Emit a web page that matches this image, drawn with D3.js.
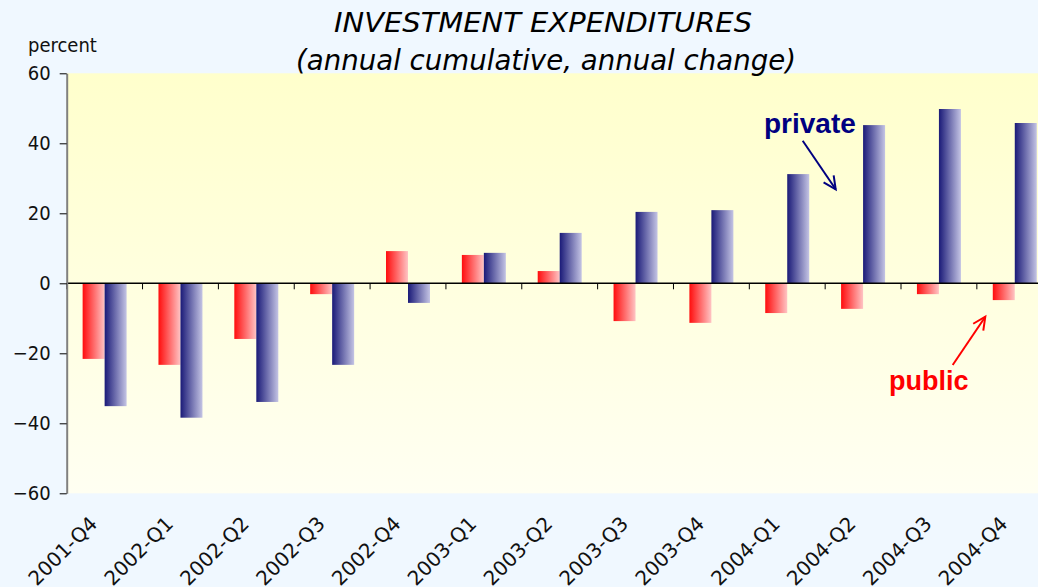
<!DOCTYPE html>
<html><head><meta charset="utf-8">
<script src="https://cdn.jsdelivr.net/npm/d3@7"></script>
<style>
html,body{margin:0;padding:0;background:#F0F8FF;overflow:hidden;}
svg{display:block;}
</style></head>
<body>
<script>
const categories = ["2001-Q4","2002-Q1","2002-Q2","2002-Q3","2002-Q4","2003-Q1","2003-Q2","2003-Q3","2003-Q4","2004-Q1","2004-Q2","2004-Q3","2004-Q4"];
const publicValues  = [-21.6,-23.3,-15.9,-3.1, 9.2, 8.1, 3.5,-10.8,-11.3,-8.5,-7.3,-3.1,-4.8];
const privateValues = [-35.1,-38.4,-33.9,-23.3,-5.6, 8.7,14.4, 20.4, 20.9,31.2,45.2,49.8,45.8];
const seriesNames = ["public","private"];
const yTicks = [-60,-40,-20,0,20,40,60];

const W = 1038, H = 587;
const mLeft = 66.7, mRight = 1052.7, mTop = 73.3, mBottom = 493.3;
const FONTC = "'DejaVu Sans Condensed','DejaVu Sans',sans-serif";
const FONT = "'DejaVu Sans',sans-serif";

const svg = d3.select("body").append("svg").attr("width", W).attr("height", H);
const defs = svg.append("defs");

const bg = defs.append("linearGradient").attr("id","bgGrad").attr("x1",0).attr("y1",0).attr("x2",0).attr("y2",1);
bg.append("stop").attr("offset","0%").attr("stop-color","#FFFFCC");
bg.append("stop").attr("offset","100%").attr("stop-color","#FFFFF2");

const rg = defs.append("linearGradient").attr("id","redGrad").attr("x1",0).attr("y1",0).attr("x2",1).attr("y2",0);
rg.append("stop").attr("offset","0%").attr("stop-color","#FF0D0D");
rg.append("stop").attr("offset","100%").attr("stop-color","#FFC4C4");
const bgr = defs.append("linearGradient").attr("id","blueGrad").attr("x1",0).attr("y1",0).attr("x2",1).attr("y2",0);
bgr.append("stop").attr("offset","0%").attr("stop-color","#1A1A78");
bgr.append("stop").attr("offset","100%").attr("stop-color","#C4C4E4");

const x0 = d3.scaleBand().domain(categories).range([mLeft, mRight]).paddingInner(0.42).paddingOuter(0.21);
const x1 = d3.scaleBand().domain(seriesNames).range([0, x0.bandwidth()]);
const y = d3.scaleLinear().domain([-60, 60]).range([mBottom, mTop]);

// plot area
svg.append("rect").attr("x", mLeft).attr("y", mTop).attr("width", mRight-mLeft).attr("height", mBottom-mTop).attr("fill","url(#bgGrad)");

// bars
const data = categories.map((c,i)=>({c, vals:[{s:"public",v:publicValues[i]},{s:"private",v:privateValues[i]}]}));
const g = svg.append("g").selectAll("g").data(data).join("g").attr("transform", d=>`translate(${x0(d.c)},0)`);
g.selectAll("rect").data(d=>d.vals).join("rect")
  .attr("x", d=>x1(d.s))
  .attr("width", x1.bandwidth())
  .attr("y", d=>y(Math.max(0,d.v)))
  .attr("height", d=>Math.abs(y(d.v)-y(0)))
  .attr("fill", d=>d.s==="public"?"url(#redGrad)":"url(#blueGrad)");

// zero line + category ticks
svg.append("line").attr("x1",mLeft).attr("x2",mRight).attr("y1",y(0)).attr("y2",y(0)).attr("stroke","#000").attr("stroke-width",1.5);
const step = x0.step();
svg.append("g").selectAll("line").data(d3.range(categories.length+1)).join("line")
  .attr("x1", i=>x0.range()[0]+i*step).attr("x2", i=>x0.range()[0]+i*step)
  .attr("y1", y(0)).attr("y2", y(0)+6).attr("stroke","#000").attr("stroke-width",1);

// y axis
const yAxis = svg.append("g").attr("transform",`translate(${mLeft},0)`)
  .call(d3.axisLeft(y).tickValues(yTicks).tickSize(7).tickPadding(9).tickSizeOuter(0));
yAxis.select(".domain").attr("stroke","#808080").attr("stroke-width",2);
yAxis.selectAll(".tick line").attr("stroke","#000");
yAxis.selectAll(".tick text").attr("font-family",FONTC).attr("font-size",20).attr("fill","#111");

// x labels
svg.append("g").selectAll("text").data(categories).join("text")
  .attr("transform", d=>`translate(${x0(d)+x0.bandwidth()/2-6},525) rotate(-45)`)
  .attr("text-anchor","end")
  .attr("font-family",FONT).attr("font-size",20).attr("fill","#111")
  .text(d=>d);

// titles
svg.append("text").attr("x",543).attr("y",32).attr("text-anchor","middle")
  .attr("font-family",FONT).attr("font-style","italic").attr("font-size",27).attr("fill","#000")
  .attr("textLength",418).attr("lengthAdjust","spacingAndGlyphs")
  .text("INVESTMENT EXPENDITURES");
svg.append("text").attr("x",546).attr("y",70).attr("text-anchor","middle")
  .attr("font-family",FONT).attr("font-style","italic").attr("font-size",28).attr("fill","#000")
  .attr("textLength",500).attr("lengthAdjust","spacingAndGlyphs")
  .text("(annual cumulative, annual change)");
svg.append("text").attr("x",28).attr("y",52)
  .attr("font-family",FONTC).attr("font-size",20).attr("fill","#111").text("percent");

// annotations
svg.append("text").attr("x",764).attr("y",133).attr("font-family","'Liberation Sans',Arial,sans-serif")
  .attr("font-weight","bold").attr("font-size",28).attr("fill","#000080").text("private");
svg.append("text").attr("x",889).attr("y",390).attr("font-family","'Liberation Sans',Arial,sans-serif")
  .attr("font-weight","bold").attr("font-size",27).attr("fill","#FF0000").text("public");

function arrow(ax,ay,bx,by,color){
  const a = Math.atan2(by-ay, bx-ax), L = 14, sp = 0.45;
  const p = [[bx-L*Math.cos(a-sp), by-L*Math.sin(a-sp)],[bx,by],[bx-L*Math.cos(a+sp), by-L*Math.sin(a+sp)]];
  svg.append("line").attr("x1",ax).attr("y1",ay).attr("x2",bx).attr("y2",by).attr("stroke",color).attr("stroke-width",2);
  svg.append("path").attr("d", d3.line()(p)).attr("fill","none").attr("stroke",color).attr("stroke-width",2);
}
arrow(802.7,140.7,835.7,189.3,"#000080");
arrow(952.7,365,985.3,316.7,"#FF0000");
</script>
</body></html>
